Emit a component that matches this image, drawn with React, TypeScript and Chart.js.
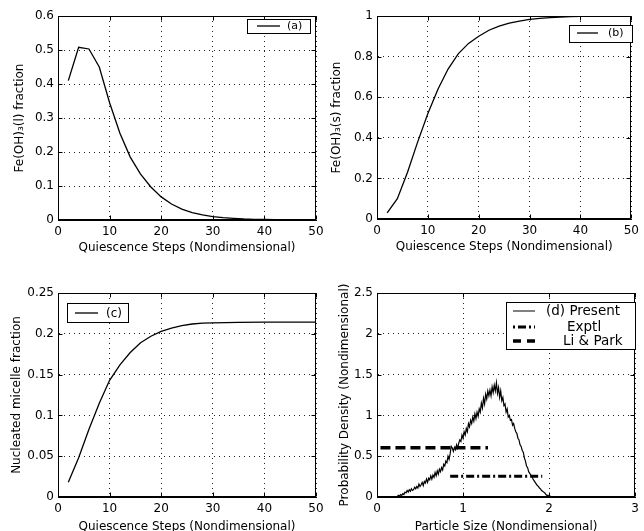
import React, { useEffect, useRef } from "react";
import { Chart, registerables } from "chart.js";

Chart.register(...registerables);

const FONT = "'DejaVu Sans', 'Liberation Sans', sans-serif";

// ---- Panel (a) ----
const stepsA = [2, 4, 6, 8, 10, 12, 14, 16, 18, 20, 22, 24, 26, 28, 30, 32, 34, 36, 38, 40, 42, 44];
const fracLiquid = [0.41, 0.508, 0.503, 0.45, 0.345, 0.255, 0.185, 0.135, 0.097, 0.068, 0.047, 0.032, 0.022, 0.015, 0.01, 0.007, 0.005, 0.003, 0.002, 0.0015, 0.001, 0.0005];

// ---- Panel (b) ----
const stepsB = [2, 4, 6, 8, 10, 12, 14, 16, 18, 20, 22, 24, 26, 28, 30, 32, 34, 36, 38, 40, 44, 48];
const fracSolid = [0.03, 0.1, 0.23, 0.38, 0.52, 0.64, 0.74, 0.815, 0.865, 0.9, 0.93, 0.95, 0.965, 0.975, 0.983, 0.988, 0.992, 0.995, 0.997, 0.998, 0.999, 1.0];

// ---- Panel (c) ----
const stepsC = [2, 4, 6, 8, 10, 12, 14, 16, 18, 20, 22, 24, 26, 28, 30, 35, 40, 45, 50];
const fracNucleated = [0.018, 0.048, 0.083, 0.115, 0.143, 0.162, 0.177, 0.189, 0.197, 0.203, 0.207, 0.21, 0.212, 0.213, 0.2135, 0.214, 0.2142, 0.2143, 0.2143];

// ---- Panel (d) ----
const particleSize = [
  0.2, 0.2125, 0.225, 0.2375, 0.25, 0.2625, 0.275, 0.2875, 0.3, 0.3125, 0.325, 0.3375, 0.35, 0.3625, 0.375, 0.3875,
  0.4, 0.4125, 0.425, 0.4375, 0.45, 0.4625, 0.475, 0.4875, 0.5, 0.5125, 0.525, 0.5375, 0.55, 0.5625, 0.575, 0.5875,
  0.6, 0.6125, 0.625, 0.6375, 0.65, 0.6625, 0.675, 0.6875, 0.7, 0.7125, 0.725, 0.7375, 0.75, 0.7625, 0.775, 0.7875,
  0.8, 0.8125, 0.825, 0.8375, 0.85, 0.8625, 0.875, 0.8875, 0.9, 0.9125, 0.925, 0.9375, 0.95, 0.9625, 0.975, 0.9875,
  1.0, 1.0125, 1.025, 1.0375, 1.05, 1.0625, 1.075, 1.0875, 1.1, 1.1125, 1.125, 1.1375, 1.15, 1.1625, 1.175, 1.1875,
  1.2, 1.2125, 1.225, 1.2375, 1.25, 1.2625, 1.275, 1.2875, 1.3, 1.3125, 1.325, 1.3375, 1.35, 1.3625, 1.375, 1.3875,
  1.4, 1.4125, 1.425, 1.4375, 1.45, 1.4625, 1.475, 1.4875, 1.5, 1.5125, 1.525, 1.5375, 1.55, 1.5625, 1.575, 1.5875,
  1.6, 1.6125, 1.625, 1.6375, 1.65, 1.6625, 1.675, 1.6875, 1.7, 1.7125, 1.725, 1.7375, 1.75, 1.7625, 1.775, 1.7875,
  1.8, 1.8125, 1.825, 1.8375, 1.85, 1.8625, 1.875, 1.8875, 1.9, 1.9125, 1.925, 1.9375, 1.95, 1.9625, 1.975, 1.9875,
  2.0, 2.0125, 2.025, 2.05, 3.0,
];
const densityPresent = [
  0.0, 0.0, 0.0, 0.01, 0.02, 0.01, 0.03, 0.02, 0.04, 0.03, 0.06, 0.05, 0.08, 0.06, 0.09, 0.07,
  0.1, 0.08, 0.09, 0.12, 0.1, 0.13, 0.11, 0.16, 0.13, 0.15, 0.18, 0.14, 0.19, 0.17, 0.22, 0.18,
  0.23, 0.21, 0.26, 0.22, 0.27, 0.24, 0.3, 0.26, 0.32, 0.28, 0.34, 0.31, 0.36, 0.33, 0.4, 0.38,
  0.44, 0.42, 0.5, 0.46, 0.53, 0.62, 0.6, 0.56, 0.61, 0.58, 0.64, 0.6, 0.66, 0.7, 0.68, 0.76,
  0.72, 0.8, 0.76, 0.84, 0.8, 0.9, 0.86, 0.94, 0.9, 0.98, 0.93, 1.02, 0.96, 1.04, 0.99, 1.08,
  1.04, 1.15, 1.09, 1.21, 1.14, 1.26, 1.2, 1.3, 1.24, 1.31, 1.24, 1.35, 1.28, 1.37, 1.3, 1.4,
  1.27, 1.34, 1.22, 1.3, 1.18, 1.22, 1.12, 1.14, 1.04, 1.08, 0.98, 1.0, 0.94, 0.95, 0.88, 0.9,
  0.84, 0.8, 0.78, 0.72, 0.7, 0.64, 0.62, 0.57, 0.55, 0.48, 0.44, 0.38, 0.36, 0.31, 0.29, 0.27,
  0.25, 0.22, 0.2, 0.18, 0.16, 0.14, 0.13, 0.11, 0.1, 0.08, 0.07, 0.06, 0.05, 0.03, 0.02, 0.02,
  0.01, 0.01, 0.0, 0.0, 0.0,
];
const exptlSize = [0.85, 1.92];
const exptlDensity = [0.255, 0.255];
const liParkSize = [0.04, 1.29];
const liParkDensity = [0.605, 0.605];

type LegendItem = { label: string; dash: number[]; width: number; textX: number; y: number };
type LegendSpec = { x: number; y: number; w: number; h: number; lineX1: number; lineX2: number; fontSize: number; items: LegendItem[] };

function makeFramePlugin(legend: LegendSpec) {
  return {
    id: "matlabFrame",
    afterDraw(chart: any) {
      const { ctx, chartArea: a, scales } = chart;
      ctx.save();
      ctx.strokeStyle = "#000";
      ctx.lineWidth = 1;
      ctx.setLineDash([]);
      const L = Math.round(a.left) + 0.5;
      const R = Math.round(a.right) - 0.5;
      const T = Math.round(a.top) + 0.5;
      const B = Math.round(a.bottom) - 0.5;
      ctx.strokeRect(L, T, R - L, B - T);
      const tl = 4;
      ctx.beginPath();
      scales.x.ticks.forEach((t: any) => {
        const px = Math.round(scales.x.getPixelForValue(t.value)) + 0.5;
        ctx.moveTo(px, B);
        ctx.lineTo(px, B - tl);
        ctx.moveTo(px, T);
        ctx.lineTo(px, T + tl);
      });
      scales.y.ticks.forEach((t: any) => {
        const py = Math.round(scales.y.getPixelForValue(t.value)) + 0.5;
        ctx.moveTo(L, py);
        ctx.lineTo(L + tl, py);
        ctx.moveTo(R, py);
        ctx.lineTo(R - tl, py);
      });
      ctx.stroke();

      // legend box
      ctx.fillStyle = "#fff";
      ctx.fillRect(legend.x, legend.y, legend.w, legend.h);
      ctx.strokeRect(legend.x + 0.5, legend.y + 0.5, legend.w, legend.h);
      ctx.font = `${legend.fontSize}px ${FONT}`;
      ctx.textBaseline = "middle";
      ctx.textAlign = "left";
      ctx.fillStyle = "#000";
      legend.items.forEach((it) => {
        ctx.save();
        ctx.lineWidth = it.width;
        ctx.setLineDash(it.dash);
        ctx.beginPath();
        ctx.moveTo(legend.lineX1, it.y);
        ctx.lineTo(legend.lineX2, it.y);
        ctx.stroke();
        ctx.restore();
        ctx.fillText(it.label, it.textX, it.y + 0.5);
      });
      ctx.restore();
    },
  };
}

type PanelSpec = {
  left: number;
  top: number;
  width: number;
  height: number;
  padding: { left: number; top: number; right: number; bottom: number };
  yWidth: number;
  xHeight: number;
  xMin: number;
  xMax: number;
  xStep: number;
  yMin: number;
  yMax: number;
  yStep: number;
  xTitle: string;
  yTitle: string;
  xTitlePad: number;
  yTitlePad: number;
  datasets: any[];
  legend: LegendSpec;
};

function line(xs: number[], ys: number[], width: number, dash: number[] = []) {
  return {
    data: xs.map((x, i) => ({ x, y: ys[i] })),
    showLine: true,
    pointRadius: 0,
    borderColor: "#000",
    borderWidth: width,
    borderDash: dash,
    fill: false,
    tension: 0,
  };
}

const fmt = (v: any) => String(Number(Number(v).toFixed(4)));

function Panel({ spec }: { spec: PanelSpec }) {
  const ref = useRef<HTMLCanvasElement>(null);
  useEffect(() => {
    const s = spec;
    const grid = { color: "#222", lineWidth: 1, drawTicks: false };
    const border = { display: true, color: "#000", width: 1, dash: [1, 4] };
    const chart = new Chart(ref.current as HTMLCanvasElement, {
      type: "scatter",
      data: { datasets: s.datasets },
      plugins: [makeFramePlugin(s.legend)],
      options: {
        responsive: false,
        animation: false,
        devicePixelRatio: 1,
        layout: { padding: s.padding },
        plugins: { legend: { display: false }, tooltip: { enabled: false }, title: { display: false } },
        scales: {
          x: {
            type: "linear",
            min: s.xMin,
            max: s.xMax,
            afterFit: (scale: any) => {
              scale.height = s.xHeight;
            },
            ticks: { stepSize: s.xStep, padding: 5, color: "#000", font: { family: FONT, size: 12 }, maxRotation: 0, callback: fmt },
            grid,
            border,
            title: {
              display: true,
              text: s.xTitle,
              color: "#000",
              font: { family: FONT, size: 12 },
              padding: { top: 0, bottom: s.xTitlePad },
            },
          },
          y: {
            type: "linear",
            min: s.yMin,
            max: s.yMax,
            afterFit: (scale: any) => {
              scale.width = s.yWidth;
            },
            ticks: { stepSize: s.yStep, padding: 4, color: "#000", font: { family: FONT, size: 12 }, callback: fmt },
            grid,
            border,
            title: {
              display: true,
              text: s.yTitle,
              color: "#000",
              font: { family: FONT, size: 12 },
              padding: { top: s.yTitlePad, bottom: 0 },
            },
          },
        },
      } as any,
    });
    return () => chart.destroy();
  }, []);
  return (
    <div style={{ position: "absolute", left: spec.left, top: spec.top, width: spec.width, height: spec.height }}>
      <canvas ref={ref} width={spec.width} height={spec.height} style={{ display: "block" }} />
    </div>
  );
}

const panels: PanelSpec[] = [
  {
    left: 0, top: 0, width: 330, height: 262,
    padding: { left: 0, top: 16, right: 14, bottom: 0 },
    yWidth: 58, xHeight: 42,
    xMin: 0, xMax: 50, xStep: 10, yMin: 0, yMax: 0.6, yStep: 0.1,
    xTitle: "Quiescence Steps (Nondimensional)",
    yTitle: "Fe(OH)\u2083(l) fraction",
    xTitlePad: 7, yTitlePad: 13,
    datasets: [line(stepsA, fracLiquid, 1.3)],
    legend: {
      x: 247, y: 19, w: 63, h: 14, lineX1: 257, lineX2: 280, fontSize: 11,
      items: [{ label: "(a)", dash: [], width: 1.3, textX: 287, y: 26 }],
    },
  },
  {
    left: 322, top: 0, width: 322, height: 262,
    padding: { left: 0, top: 16, right: 7, bottom: 0 },
    yWidth: 55, xHeight: 43,
    xMin: 0, xMax: 50, xStep: 10, yMin: 0, yMax: 1, yStep: 0.2,
    xTitle: "Quiescence Steps (Nondimensional)",
    yTitle: "Fe(OH)\u2083(s) fraction",
    xTitlePad: 8, yTitlePad: 8,
    datasets: [line(stepsB, fracSolid, 1.3)],
    legend: {
      x: 247, y: 25, w: 63, h: 17, lineX1: 255, lineX2: 276, fontSize: 11,
      items: [{ label: "(b)", dash: [], width: 1.3, textX: 286, y: 33 }],
    },
  },
  {
    left: 0, top: 262, width: 330, height: 290,
    padding: { left: 0, top: 31, right: 14, bottom: 0 },
    yWidth: 58, xHeight: 55,
    xMin: 0, xMax: 50, xStep: 10, yMin: 0, yMax: 0.25, yStep: 0.05,
    xTitle: "Quiescence Steps (Nondimensional)",
    yTitle: "Nucleated micelle fraction",
    xTitlePad: 18, yTitlePad: 10,
    datasets: [line(stepsC, fracNucleated, 1.3)],
    legend: {
      x: 67, y: 41, w: 61, h: 19, lineX1: 75, lineX2: 98, fontSize: 12,
      items: [{ label: "(c)", dash: [], width: 1.3, textX: 106, y: 51 }],
    },
  },
  {
    left: 322, top: 262, width: 322, height: 290,
    padding: { left: 0, top: 31, right: 7, bottom: 0 },
    yWidth: 55, xHeight: 55,
    xMin: 0, xMax: 3, xStep: 1, yMin: 0, yMax: 2.5, yStep: 0.5,
    xTitle: "Particle Size (Nondimensional)",
    yTitle: "Probability Density (Nondimensional)",
    xTitlePad: 18, yTitlePad: 16,
    datasets: [
      line(particleSize, densityPresent, 1.2),
      line(exptlSize, exptlDensity, 3, [8, 3, 2, 3]),
      line(liParkSize, liParkDensity, 3.5, [10, 5]),
    ],
    legend: {
      x: 184, y: 40, w: 129, h: 47, lineX1: 191, lineX2: 213, fontSize: 13.5,
      items: [
        { label: "(d) Present", dash: [], width: 1, textX: 224, y: 49 },
        { label: "Exptl", dash: [2, 3, 8, 3], width: 3, textX: 245, y: 65 },
        { label: "Li & Park", dash: [8, 6], width: 3.5, textX: 241, y: 79 },
      ],
    },
  },
];

export default function App() {
  return (
    <div style={{ position: "absolute", left: 0, top: 0, width: 644, height: 531, overflow: "hidden", background: "#fff" }}>
      {panels.map((p, i) => (
        <Panel key={i} spec={p} />
      ))}
    </div>
  );
}
